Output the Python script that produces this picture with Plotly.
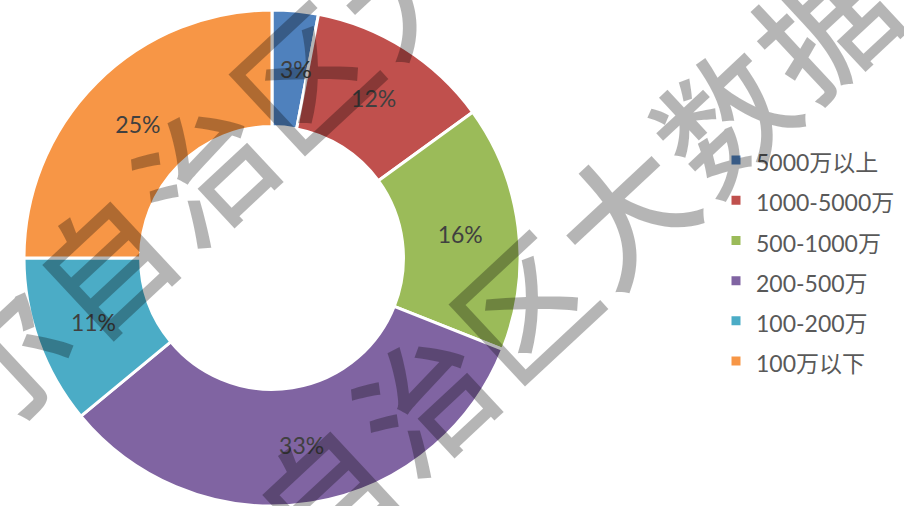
import math
import plotly.graph_objects as go

# ---- data ----
categories = ["5000万以上", "1000-5000万", "500-1000万", "200-500万", "100-200万", "100万以下"]
shares = [3, 12, 16, 33, 11, 25]
colors = ["#4F81BD", "#C0504D", "#9BBB59", "#8064A2", "#4BACC6", "#F79646"]

# watermark decoration (two diagonal lines of the same text)
wm_lines = [
    {"text": "尔自治区大数", "start": (0, 354)},
    {"text": "自治区大数据", "start": (320, 490)},
]
wm_step = (100, -94)

W, H = 904, 506
HOLE = 0.53
DOM_X = [24 / W, 520 / W]
DOM_Y = [0, 1 - 10 / H]

legend_labels = [f"<span style='font-size:23px'>{c}</span>" for c in categories]

# slices that are too narrow for plotly's inside fitting get their label as an annotation
total = sum(shares)
narrow = [s / total < 0.05 for s in shares]
templates = ["" if n else "%{percent:.0%}" for n in narrow]

label_font = dict(family="Lato, 'Noto Sans CJK SC'", size=23, color="#404040")

fig = go.Figure(go.Pie(
    labels=legend_labels,
    values=shares,
    sort=False,
    direction="clockwise",
    rotation=0,
    hole=HOLE,
    marker=dict(colors=colors, line=dict(color="white", width=3)),
    texttemplate=templates,
    textposition="inside",
    insidetextorientation="horizontal",
    textfont=label_font,
    domain=dict(x=DOM_X, y=DOM_Y),
    hoverinfo="label+percent",
))

annotations = []

# labels for narrow slices, placed at the mid-angle / mid-ring of the slice
cx = (DOM_X[0] + DOM_X[1]) / 2 * W
cy = (1 - (DOM_Y[0] + DOM_Y[1]) / 2) * H
R = min((DOM_X[1] - DOM_X[0]) * W, (DOM_Y[1] - DOM_Y[0]) * H) / 2
r_mid = R * (1 + HOLE) / 2
cum = 0
for s, n in zip(shares, narrow):
    mid = (cum + s / 2) / total * 2 * math.pi
    cum += s
    if n:
        px = cx + r_mid * math.sin(mid) + 6
        py = cy - r_mid * math.cos(mid)
        annotations.append(dict(
            text=f"{round(100 * s / total)}%", x=px / W, y=1 - py / H,
            xref="paper", yref="paper", showarrow=False,
            xanchor="center", yanchor="middle", font=label_font,
        ))

for line in wm_lines:
    x0, y0 = line["start"]
    for i, ch in enumerate(line["text"]):
        px = x0 + wm_step[0] * i
        py = y0 + wm_step[1] * i
        annotations.append(dict(
            text=ch, x=px / W, y=1 - py / H, xref="paper", yref="paper",
            xanchor="center", yanchor="middle", showarrow=False,
            textangle=-43,
            font=dict(family="Noto Sans CJK SC", size=132, weight=500,
                      color="rgba(0,0,0,0.29)"),
        ))

fig.update_layout(
    width=W, height=H,
    margin=dict(l=0, r=0, t=0, b=0),
    paper_bgcolor="white",
    plot_bgcolor="white",
    showlegend=True,
    legend=dict(
        x=716 / W, xanchor="left",
        y=1 - 261 / H, yanchor="middle",
        font=dict(family="Lato, 'Noto Sans CJK SC'", size=28.6, color="#595959"),
        bgcolor="rgba(0,0,0,0)",
    ),
    uniformtext=dict(minsize=22, mode="show"),
    annotations=annotations,
)

fig.write_html("out.html")
